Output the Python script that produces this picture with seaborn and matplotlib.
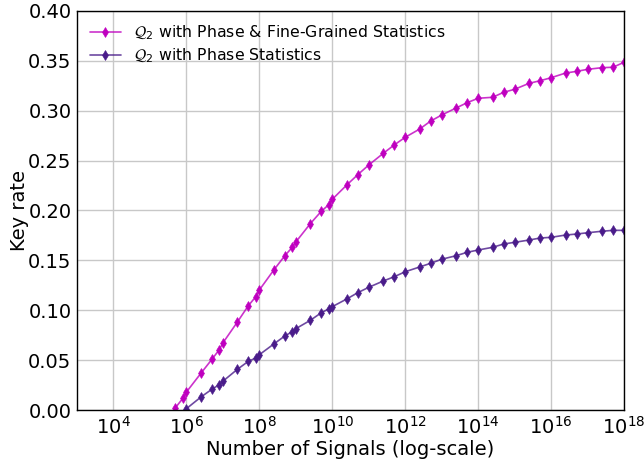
import numpy as np
import pandas as pd
import matplotlib
matplotlib.use("Agg")
import matplotlib.pyplot as plt
import seaborn as sns

# ---- data ----
signals_fine = [5e5, 8e5, 1e6, 2.5e6, 5e6, 8e6, 1e7, 2.5e7, 5e7, 8e7, 1e8, 2.5e8, 5e8, 8e8,
                1e9, 2.5e9, 5e9, 8e9, 1e10, 2.5e10, 5e10, 1e11, 2.5e11, 5e11, 1e12,
                2.5e12, 5e12, 1e13, 2.5e13, 5e13, 1e14, 2.5e14, 5e14, 1e15, 2.5e15,
                5e15, 1e16, 2.5e16, 5e16, 1e17, 2.5e17, 5e17, 1e18]
rate_fine = [0.0023, 0.0117, 0.0180, 0.0368, 0.0508, 0.0605, 0.0672, 0.0882, 0.1046, 0.1136,
             0.1203, 0.1404, 0.1547, 0.1631, 0.1684, 0.1868, 0.1992, 0.2058, 0.2112,
             0.2256, 0.2359, 0.2456, 0.2573, 0.2657, 0.2734, 0.2817, 0.2897, 0.2957,
             0.3028, 0.3081, 0.3125, 0.3135, 0.3185, 0.3215, 0.3275, 0.3301, 0.3331,
             0.3378, 0.3395, 0.3415, 0.3432, 0.3436, 0.3486]

signals_phase = [8e5, 1e6, 2.5e6, 5e6, 8e6, 1e7, 2.5e7, 5e7, 8e7, 1e8, 2.5e8, 5e8, 8e8,
                 1e9, 2.5e9, 5e9, 8e9, 1e10, 2.5e10, 5e10, 1e11, 2.5e11, 5e11, 1e12,
                 2.5e12, 5e12, 1e13, 2.5e13, 5e13, 1e14, 2.5e14, 5e14, 1e15, 2.5e15,
                 5e15, 1e16, 2.5e16, 5e16, 1e17, 2.5e17, 5e17, 1e18]
rate_phase = [-0.006, 0.0013, 0.0130, 0.0208, 0.0254, 0.0288, 0.0408, 0.0488, 0.0521, 0.0554,
              0.0662, 0.0742, 0.0785, 0.0815, 0.0899, 0.0975, 0.1013, 0.1036, 0.1113,
              0.1176, 0.1230, 0.1293, 0.1336, 0.1386, 0.1434, 0.1471, 0.1511, 0.1547,
              0.1581, 0.1604, 0.1631, 0.1664, 0.1681, 0.1704, 0.1724, 0.1731, 0.1754,
              0.1764, 0.1777, 0.1792, 0.1801, 0.1801]

label_fine = r"$\mathcal{Q}_2$ with Phase & Fine-Grained Statistics"
label_phase = r"$\mathcal{Q}_2$ with Phase Statistics"
x_ticks = [1e4, 1e6, 1e8, 1e10, 1e12, 1e14, 1e16, 1e18]
y_ticks = [0.00, 0.05, 0.10, 0.15, 0.20, 0.25, 0.30, 0.35, 0.40]

df_fine = pd.DataFrame({"Signals": signals_fine, "Rate": rate_fine})
df_phase = pd.DataFrame({"Signals": signals_phase, "Rate": rate_phase})

sns.set_theme(style="whitegrid")
plt.rcParams["font.family"] = ["DejaVu Sans"]
plt.rcParams["mathtext.fontset"] = "dejavusans"
for k in ["text.color", "axes.labelcolor", "xtick.color", "ytick.color"]:
    plt.rcParams[k] = "black"

fig = plt.figure(figsize=(6.44, 4.61), dpi=100)
ax = fig.add_axes([77/644, 1 - 410/461, (624-77)/644, (410-11)/461])

c_fine = (0.75, 0.0, 0.75)
c_phase = (0.29, 0.11, 0.54)

for df, c, lab in [(df_fine, c_fine, label_fine), (df_phase, c_phase, label_phase)]:
    sns.lineplot(data=df, x="Signals", y="Rate", ax=ax, color=c + (0.8,), label=lab,
                 marker="d", markersize=5.5, markerfacecolor=c, markeredgecolor=c,
                 markeredgewidth=0.4, linewidth=1.2, estimator=None, sort=False)

ax.set_xscale("log")
ax.set_xlim(1e3, 1e18)
ax.set_ylim(0.0, 0.40)
ax.set_xticks(x_ticks)
ax.minorticks_off()
ax.set_yticks(y_ticks)
ax.set_yticklabels([f"{v:.2f}" for v in y_ticks])
ax.tick_params(axis="both", labelsize=14, length=0, pad=4, colors="black")
ax.set_xlabel("Number of Signals (log-scale)", fontsize=14, labelpad=2, color="black")
ax.set_ylabel("Key rate", fontsize=14, color="black", labelpad=-1)
ax.grid(True, color="#c8c8c8", linewidth=1.0)
for s in ax.spines.values():
    s.set_color("black")
    s.set_linewidth(1.0)
leg = ax.legend(loc="upper left", frameon=False, fontsize=11.3, borderaxespad=0.4,
                handlelength=2.0, labelspacing=0.3)
for t in leg.get_texts():
    t.set_color("black")

fig.savefig("out.png", dpi=100)
